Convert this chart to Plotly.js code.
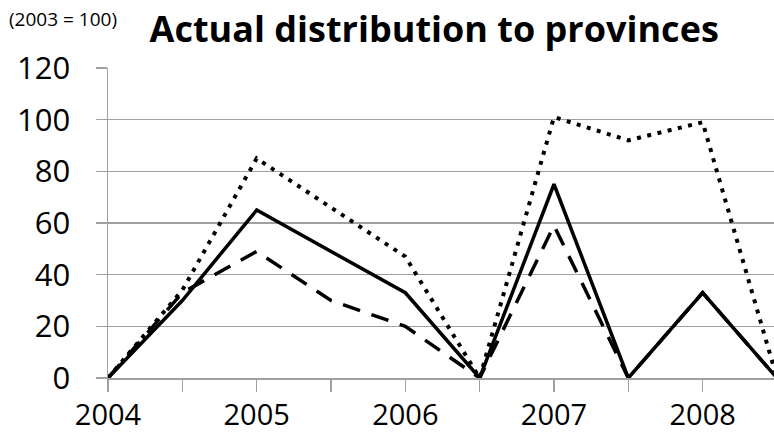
<!DOCTYPE html>
<html>
<head>
<meta charset="utf-8">
<script src="https://cdn.plot.ly/plotly-3.0.1.min.js"></script>
<style>html,body{margin:0;padding:0;background:#fff;overflow:hidden}#chart{width:774px;height:435px}</style>
</head>
<body>
<div id="chart"></div>
<script>
// Half-year positions; labels on full years
const periods = [0, 1, 2, 3, 4, 5, 6, 7, 8, 9];
const tickLabels = ["2004", "", "2005", "", "2006", "", "2007", "", "2008", ""];
const seriesSolid  = [0, 30, 65, 49, 33, 0, 75, 0, 33, 0];
const seriesDashed = [0, 33, 49, 30, 20, 0, 59, 0, 33, 0];
const seriesDotted = [0, 34, 85, 66, 47, 0, 101, 92, 99, 0];

const font = "'Open Sans', Lato, sans-serif";

const traces = [
  {x: periods, y: seriesDotted, mode: "lines", line: {color: "#000", width: 4, dash: "4px,6.5px"}, hoverinfo: "skip"},
  {x: periods, y: seriesDashed, mode: "lines", line: {color: "#000", width: 3.5, dash: "18px,12px"}, hoverinfo: "skip"},
  {x: periods, y: seriesSolid, mode: "lines", line: {color: "#000", width: 3.5}, hoverinfo: "skip"}
];

const layout = {
  width: 774, height: 435,
  margin: {l: 108, r: 0, t: 68, b: 57},
  paper_bgcolor: "#fff", plot_bgcolor: "#fff",
  showlegend: false,
  font: {family: font, color: "#000"},
  title: {text: "<b>Actual distribution to provinces</b>", font: {family: font, size: 36, color: "#000"}, xref: "container", yref: "container", x: 0.561, xanchor: "center", y: 0.933, yanchor: "middle"},
  xaxis: {
    range: [0, 8.96], tickmode: "array", tickvals: periods, ticktext: tickLabels,
    showgrid: false, zeroline: false, showline: true, linecolor: "#a0a0a0", linewidth: 1.5,
    ticks: "outside", ticklen: 12, tickwidth: 1.5, tickcolor: "#a0a0a0",
    tickfont: {family: font, size: 29, color: "#000"}, ticklabelstandoff: -1
  },
  yaxis: {
    range: [0, 120], tickvals: [0, 20, 40, 60, 80, 100, 120],
    showgrid: true, gridcolor: "#a0a0a0", gridwidth: 1.5, zeroline: false,
    showline: true, linecolor: "#a0a0a0", linewidth: 1.5,
    ticks: "outside", ticklen: 11, tickwidth: 1.5, tickcolor: "#a0a0a0",
    tickfont: {family: font, size: 31, color: "#000"}, ticklabelstandoff: 19
  },
  annotations: [
    {text: "(2003 = 100)", xref: "paper", yref: "paper", x: -0.152, y: 1.157, xanchor: "left", yanchor: "middle", showarrow: false, font: {family: font, size: 19, color: "#000"}}
  ]
};

Plotly.newPlot("chart", traces, layout, {staticPlot: true, displayModeBar: false});
</script>
</body>
</html>
